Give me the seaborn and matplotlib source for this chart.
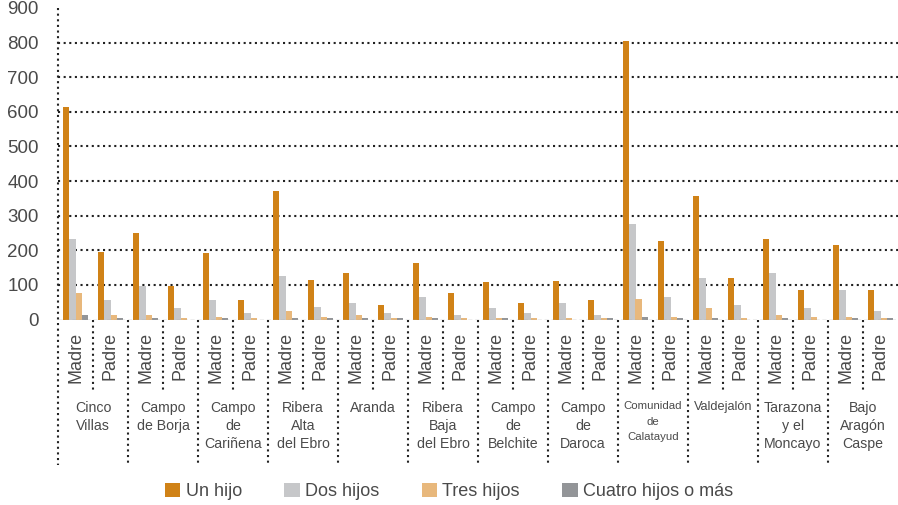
import numpy as np
import pandas as pd
import matplotlib
matplotlib.use("Agg")
import matplotlib.pyplot as plt
import matplotlib.transforms as mtransforms
from matplotlib.patches import Patch
import seaborn as sns

# ---------------- data ----------------
comarcas = ["Cinco\nVillas", "Campo\nde Borja", "Campo\nde\nCariñena", "Ribera\nAlta\ndel Ebro",
            "Aranda", "Ribera\nBaja\ndel Ebro", "Campo\nde\nBelchite", "Campo\nde\nDaroca",
            "Comunidad\nde\nCalatayud", "Valdejalón", "Tarazona\ny el\nMoncayo", "Bajo\nAragón\nCaspe"]
sexos = ["Madre", "Padre"]
series = ["Un hijo", "Dos hijos", "Tres hijos", "Cuatro hijos o más"]

# values ordered: comarca -> Madre, Padre
un_hijo = [613, 196, 251, 96, 191, 55, 370, 115, 133, 43, 162, 78,
           107, 49, 110, 55, 804, 228, 358, 121, 234, 84, 216, 84]
dos_hijos = [234, 55, 96, 32, 55, 20, 127, 37, 49, 20, 66, 14,
             32, 20, 49, 14, 275, 66, 121, 43, 133, 32, 84, 26]
tres_hijos = [78, 14, 14, 3, 8, 3, 26, 8, 14, 3, 8, 3,
              3, 3, 3, 3, 60, 8, 32, 3, 14, 8, 8, 3]
cuatro_hijos = [14, 3, 3, 0, 3, 0, 3, 3, 3, 3, 3, 0,
                3, 0, 0, 3, 8, 3, 3, 0, 3, 0, 3, 3]

colors = ["#D08217", "#C6C7C9", "#E8B87C", "#939598"]
yticks = [0, 100, 200, 300, 400, 500, 600, 700, 800, 900]

# ---------------- build table ----------------
sub_keys = [f"{i}_{s}" for i in range(len(comarcas)) for s in sexos]
sub_labels = [s for _ in comarcas for s in sexos]
rows = []
for name, vals in zip(series, [un_hijo, dos_hijos, tres_hijos, cuatro_hijos]):
    for k, v in zip(sub_keys, vals):
        rows.append({"sub": k, "serie": name, "valor": v})
df = pd.DataFrame(rows)

# ---------------- figure ----------------
sns.set_theme(style="white")
plt.rcParams["font.family"] = ["Liberation Sans", "DejaVu Sans"]
txt = "#4a4a4a"

fig = plt.figure(figsize=(8.98, 5.05), dpi=100)
ax = fig.add_axes([58 / 898, (505 - 319.5) / 505, 840 / 898, 311.5 / 505])

sns.barplot(data=df, x="sub", y="valor", hue="serie", order=sub_keys,
            hue_order=series, palette=colors, saturation=1, width=0.7,
            linewidth=0, legend=False, errorbar=None, ax=ax, zorder=3)

ax.set_xlim(-0.5, len(sub_keys) - 0.5)
ax.set_ylim(0, 900)
ax.set_yticks(yticks)
ax.set_yticklabels([str(t) for t in yticks], fontsize=13.5, color=txt)
ax.tick_params(axis="y", length=0, pad=14)
ax.set_xticks(range(len(sub_keys)))
ax.set_xticklabels(sub_labels, rotation=90, fontsize=13, color=txt)
ax.tick_params(axis="x", length=0, pad=9)
ax.set_xlabel("")
ax.set_ylabel("")
for sp in ax.spines.values():
    sp.set_visible(False)

dot = (0, (1, 1.7))
for y in yticks[1:-1]:
    ax.axhline(y, color="#222222", lw=1.5, linestyle=dot, zorder=1)
ax.axhline(0, color="#aaaaaa", lw=1.0, linestyle=(0, (3, 2)), zorder=4)

trans = mtransforms.blended_transform_factory(ax.transData, ax.transAxes)
# left axis (continues down as separator)
ax.plot([-0.5, -0.5], [1.0, -0.467], transform=trans, color="#222222", lw=1.5,
        linestyle=dot, clip_on=False, zorder=5)
for b in np.arange(0.5, len(sub_keys) - 0.5, 1.0):
    short = int(b - 0.5) % 2 == 0
    y1 = -0.226 if short else -0.467
    ax.plot([b, b], [0, y1], transform=trans, color="#222222", lw=1.5,
            linestyle=dot, clip_on=False, zorder=5)

for i, name in enumerate(comarcas):
    if name.startswith("Comunidad"):
        fs = 8.2
    elif name.startswith("Valdejal"):
        fs = 9.2
    else:
        fs = 10.2
    ax.text(2 * i + 0.5, -0.262, name, transform=trans, ha="center", va="top",
            fontsize=fs, color=txt, linespacing=1.35 * 10.2 / fs, multialignment="center")

handles = [Patch(facecolor=c, edgecolor="none") for c in colors]
fig.legend(handles, series, loc="center", bbox_to_anchor=(0.5, 0.027), ncol=4,
           frameon=False, fontsize=13, handlelength=0.85, handleheight=0.85,
           handletextpad=0.3, columnspacing=2.35, labelcolor=txt,
           borderaxespad=0, borderpad=0)

fig.savefig("out.png", dpi=100)
